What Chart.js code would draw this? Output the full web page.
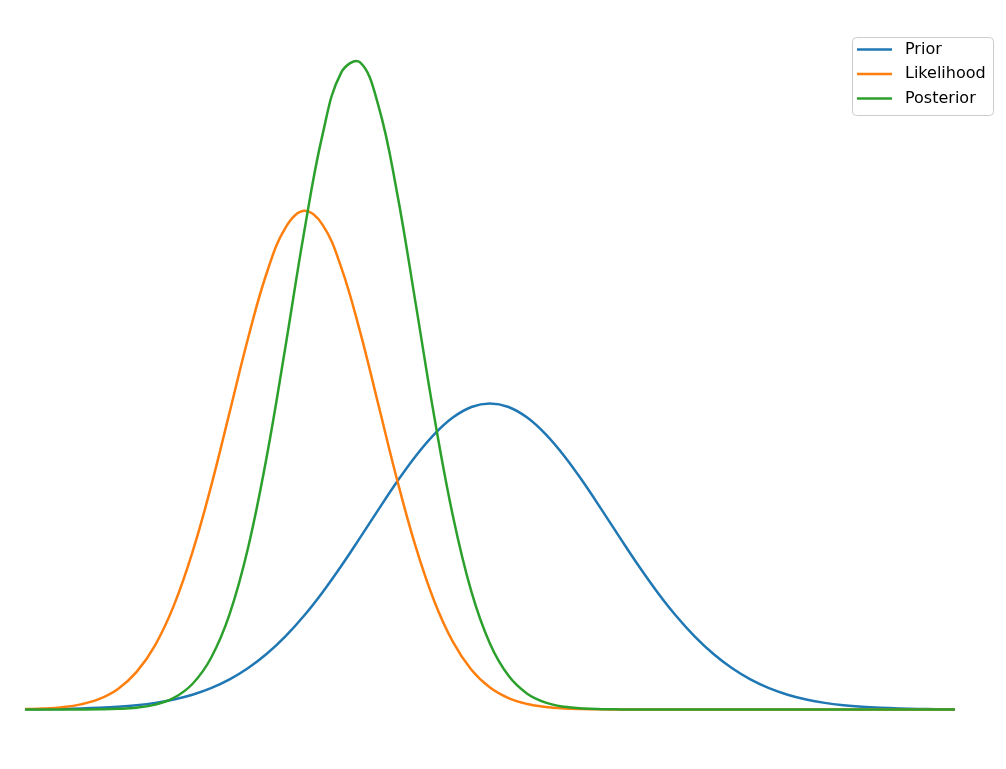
<!DOCTYPE html>
<html>
<head>
<meta charset="utf-8">
<script src="https://cdn.jsdelivr.net/npm/chart.js@4.4.1/dist/chart.umd.min.js"></script>
<style>
  html, body { margin: 0; padding: 0; background: #fff; }
  #wrap { width: 1006px; height: 769px; }
</style>
</head>
<body>
<div id="wrap"><canvas id="chart" width="1006" height="769"></canvas></div>
<script>
// x grid (theta)
const xValues = [0, 0.2, 0.4, 0.6, 0.8, 1, 1.2, 1.4, 1.6, 1.8,
    2, 2.2, 2.4, 2.6, 2.8, 3, 3.2, 3.4, 3.6, 3.8,
    4, 4.2, 4.4, 4.6, 4.8, 5, 5.2, 5.4, 5.6, 5.8,
    6, 6.2, 6.4, 6.6, 6.8, 7, 7.2, 7.4, 7.6, 7.8,
    8, 8.2, 8.4, 8.6, 8.8, 9, 9.2, 9.4, 9.6, 9.8, 10];

const prior = [0.00017, 0.0003, 0.00053, 0.00089, 0.00149, 0.00242, 0.00384, 0.00595, 0.009, 0.01329,
    0.01918, 0.02704, 0.03722, 0.05003, 0.06567, 0.0842, 0.1054, 0.1289, 0.1540, 0.1796,
    0.2046, 0.2276, 0.2472, 0.2623, 0.2718, 0.2750, 0.2718, 0.2623, 0.2472, 0.2276,
    0.2046, 0.1796, 0.1540, 0.1289, 0.1054, 0.0842, 0.06567, 0.05003, 0.03722, 0.02704,
    0.01918, 0.01329, 0.009, 0.00595, 0.00384, 0.00242, 0.00149, 0.00089, 0.00053, 0.0003, 0.00017];

const likelihood = [0.00035, 0.00088, 0.00207, 0.00458, 0.00949, 0.01848, 0.03378, 0.0579, 0.0933, 0.1411,
    0.2003, 0.2670, 0.3340, 0.3924, 0.4327, 0.4480, 0.4354, 0.3973, 0.3404, 0.2738,
    0.2067, 0.1465, 0.0975, 0.0609, 0.0357, 0.01968, 0.01017, 0.00494, 0.00225, 0.00096,
    0.00039, 0.00015, 0.00005, 0.00002, 0.00001, 0, 0, 0, 0, 0,
    0, 0, 0, 0, 0, 0, 0, 0, 0, 0, 0];

const posterior = [0, 0.000004, 0.000015, 0.000056, 0.00019, 0.00059, 0.00167, 0.00435, 0.01042, 0.02292,
    0.0463, 0.0857, 0.1458, 0.2275, 0.3257, 0.4282, 0.5167, 0.5722, 0.5816, 0.5426,
    0.4646, 0.3651, 0.2634, 0.1744, 0.1059, 0.0591, 0.03025, 0.01421, 0.00613, 0.00243,
    0.00088, 0.00029, 0.00009, 0.00003, 0.00001, 0, 0, 0, 0, 0,
    0, 0, 0, 0, 0, 0, 0, 0, 0, 0, 0];

const seriesNames = ['Prior', 'Likelihood', 'Posterior'];
const seriesColors = ['#1f77b4', '#ff7f0e', '#2ca02c'];

function toPoints(ys) {
    return xValues.map((x, i) => ({ x: x, y: ys[i] }));
}

// matplotlib-style legend box, upper right
const boxLegend = {
    id: 'boxLegend',
    afterDraw(chart) {
        const ctx = chart.ctx;
        const x = chart.width - 154, y = 37, w = 141, h = 78;
        ctx.save();
        ctx.beginPath();
        ctx.roundRect(x + 0.5, y + 0.5, w, h, 4);
        ctx.fillStyle = 'rgba(255,255,255,0.8)';
        ctx.fill();
        ctx.strokeStyle = '#cccccc';
        ctx.lineWidth = 1;
        ctx.stroke();
        ctx.font = '16px "DejaVu Sans"';
        ctx.textBaseline = 'middle';
        chart.data.datasets.forEach((ds, i) => {
            const rowY = y + 12.5 + i * 24.5;
            ctx.beginPath();
            ctx.moveTo(x + 5, rowY);
            ctx.lineTo(x + 40, rowY);
            ctx.strokeStyle = ds.borderColor;
            ctx.lineWidth = 2.5;
            ctx.stroke();
            ctx.fillStyle = '#000';
            ctx.fillText(ds.label, x + 53, rowY);
        });
        ctx.restore();
    }
};

const ctx = document.getElementById('chart').getContext('2d');

new Chart(ctx, {
    type: 'line',
    data: {
        datasets: [prior, likelihood, posterior].map((ys, i) => ({
            label: seriesNames[i],
            data: toPoints(ys),
            borderColor: seriesColors[i],
            backgroundColor: seriesColors[i],
            borderWidth: 2.5,
            pointRadius: 0,
            tension: 0.4,
            fill: false,
            clip: false,
            order: 3 - i,
        })),
    },
    options: {
        responsive: false,
        devicePixelRatio: 1,
        animation: false,
        layout: { padding: { left: 25, right: 51, top: 27, bottom: 27 } },
        scales: {
            x: { type: 'linear', min: 0, max: 10, display: false },
            y: { min: -0.0292, max: 0.6132, display: false },
        },
        plugins: {
            legend: { display: false },
            tooltip: { enabled: false },
        },
    },
    plugins: [boxLegend],
});
</script>
</body>
</html>
